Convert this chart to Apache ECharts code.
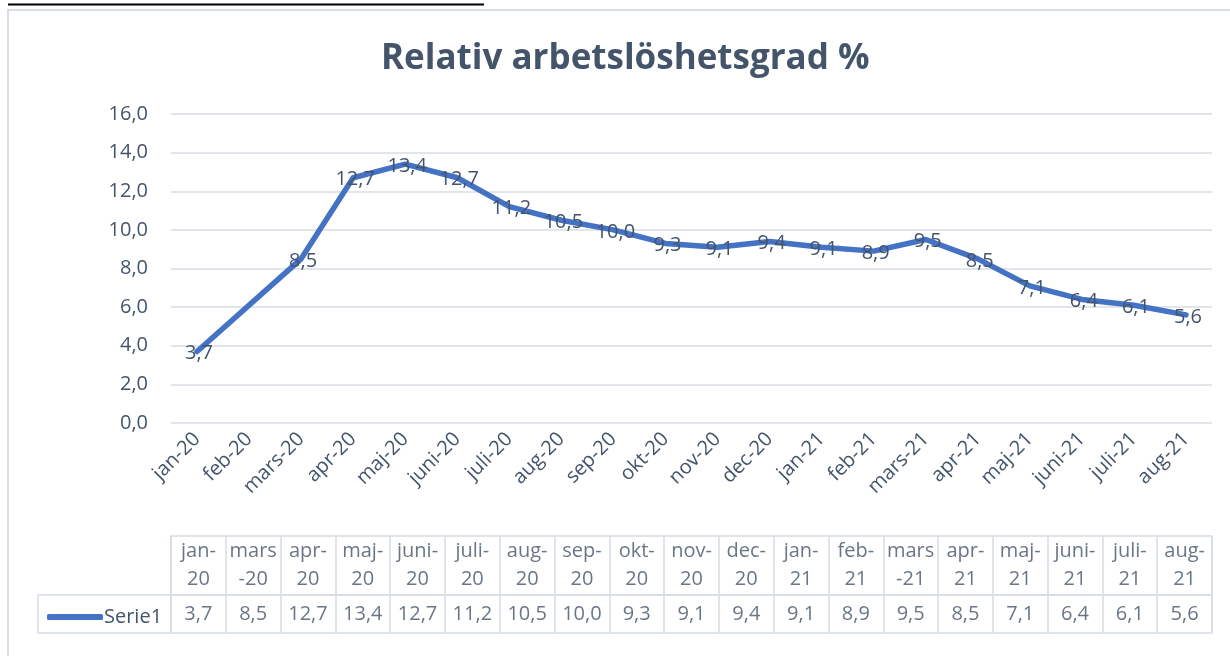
<!DOCTYPE html>
<html>
<head>
<meta charset="utf-8">
<script src="https://cdn.jsdelivr.net/npm/echarts@6/dist/echarts.min.js"></script>
<style>
  html, body { margin: 0; padding: 0; background: #fff; }
  #chart { width: 1230px; height: 656px; }
</style>
</head>
<body>
<div id="chart"></div>
<script>
  // månader på x-axeln
  var months = ['jan-20', 'feb-20', 'mars-20', 'apr-20', 'maj-20', 'juni-20', 'juli-20', 'aug-20',
    'sep-20', 'okt-20', 'nov-20', 'dec-20', 'jan-21', 'feb-21', 'mars-21', 'apr-21',
    'maj-21', 'juni-21', 'juli-21', 'aug-21'];
  // Serie1, feb-20 saknas
  var serie1 = [3.7, null, 8.5, 12.7, 13.4, 12.7, 11.2, 10.5, 10.0, 9.3, 9.1, 9.4, 9.1, 8.9, 9.5, 8.5,
    7.1, 6.4, 6.1, 5.6];
  var yTicks = [0, 2, 4, 6, 8, 10, 12, 14, 16];

  var textColor = '#44546a';
  var borderColor = '#d6dce5';
  var fontFam = '"Open Sans", sans-serif';

  function fmt(v) { return v.toFixed(1).replace('.', ','); }

  // tabellen visar bara månader med värde
  var tableCols = [], tableVals = [];
  months.forEach(function (m, i) {
    if (serie1[i] != null) { tableCols.push(m); tableVals.push(serie1[i]); }
  });
  function wrapHead(m) {
    var p = m.split('-');
    return p[0] === 'mars' ? p[0] + '\n-' + p[1] : p[0] + '-\n' + p[1];
  }

  var chart = echarts.init(document.getElementById('chart'));
  chart.setOption({
    animation: false,
    title: {
      text: 'Relativ arbetslöshetsgrad %',
      left: 376,
      top: 37,
      textStyle: { color: textColor, fontSize: 35, fontWeight: 'bold', fontFamily: fontFam }
    },
    legend: {
      left: 42,
      top: 602,
      icon: 'roundRect',
      itemWidth: 56,
      itemHeight: 6,
      itemGap: 2,
      data: ['Serie1'],
      textStyle: { color: textColor, fontSize: 20, fontFamily: fontFam, padding: [0, 0, 0, -4] }
    },
    graphic: [
      { type: 'rect', shape: { x: 8, y: 10, width: 1260, height: 700 }, style: { fill: 'none', stroke: '#d9dee4', lineWidth: 2 } },
      { type: 'line', shape: { x1: 8, y1: 4.5, x2: 484, y2: 4.5 }, style: { stroke: '#000', lineWidth: 2 } },
      { type: 'rect', shape: { x: 38, y: 595, width: 133, height: 38 }, style: { fill: 'none', stroke: borderColor, lineWidth: 1.5 } }
    ],
    grid: [
      { left: 171, right: 18, top: 114, bottom: 233 },
      { left: 171, right: 18, top: 536, height: 59, show: true, borderColor: borderColor, borderWidth: 1.5 },
      { left: 171, right: 18, top: 595, height: 38, show: true, borderColor: borderColor, borderWidth: 1.5 }
    ],
    xAxis: [
      {
        type: 'category', gridIndex: 0, data: months,
        axisLine: { show: false }, axisTick: { show: false },
        axisLabel: { rotate: 45, margin: 13, color: textColor, fontSize: 20, fontFamily: fontFam, interval: 0 }
      },
      {
        type: 'category', gridIndex: 1, data: tableCols,
        axisLine: { show: false }, axisTick: { show: false }, axisLabel: { show: false },
        splitLine: { show: true, interval: 0, lineStyle: { color: borderColor, width: 1.5 } }
      },
      {
        type: 'category', gridIndex: 2, data: tableCols,
        axisLine: { show: false }, axisTick: { show: false }, axisLabel: { show: false },
        splitLine: { show: true, interval: 0, lineStyle: { color: borderColor, width: 1.5 } }
      }
    ],
    yAxis: [
      {
        type: 'value', gridIndex: 0, min: yTicks[0], max: yTicks[yTicks.length - 1], interval: 2,
        axisLine: { show: false }, axisTick: { show: false },
        axisLabel: { margin: 23, color: textColor, fontSize: 20, fontFamily: fontFam, formatter: fmt },
        splitLine: { lineStyle: { color: '#d9dde3', width: 1.5 } }
      },
      { type: 'value', gridIndex: 1, min: 0, max: 1, show: false },
      { type: 'value', gridIndex: 2, min: 0, max: 1, show: false }
    ],
    series: [
      {
        name: 'Serie1', type: 'line', xAxisIndex: 0, yAxisIndex: 0,
        data: serie1, connectNulls: true, showSymbol: true, symbol: 'circle', symbolSize: 1,
        lineStyle: { color: '#4472c4', width: 5.5, cap: 'round', join: 'round' },
        itemStyle: { color: '#4472c4' },
        label: {
          show: true, position: 'inside', offset: [2, 2], color: textColor, fontSize: 20, fontFamily: fontFam,
          formatter: function (p) { return fmt(p.value); }
        }
      },
      {
        type: 'scatter', xAxisIndex: 1, yAxisIndex: 1, symbolSize: 1,
        itemStyle: { color: 'rgba(0,0,0,0)' }, silent: true,
        data: tableCols.map(function (m, i) { return [i, 0.5]; }),
        label: {
          show: true, position: 'inside', color: textColor, fontSize: 20, fontFamily: fontFam,
          lineHeight: 28, align: 'center',
          formatter: function (p) { return wrapHead(tableCols[p.dataIndex]); }
        }
      },
      {
        type: 'scatter', xAxisIndex: 2, yAxisIndex: 2, symbolSize: 1,
        itemStyle: { color: 'rgba(0,0,0,0)' }, silent: true,
        data: tableVals.map(function (v, i) { return [i, 0.5]; }),
        label: {
          show: true, position: 'inside', color: textColor, fontSize: 20, fontFamily: fontFam,
          formatter: function (p) { return fmt(tableVals[p.dataIndex]); }
        }
      }
    ]
  });
</script>
</body>
</html>
